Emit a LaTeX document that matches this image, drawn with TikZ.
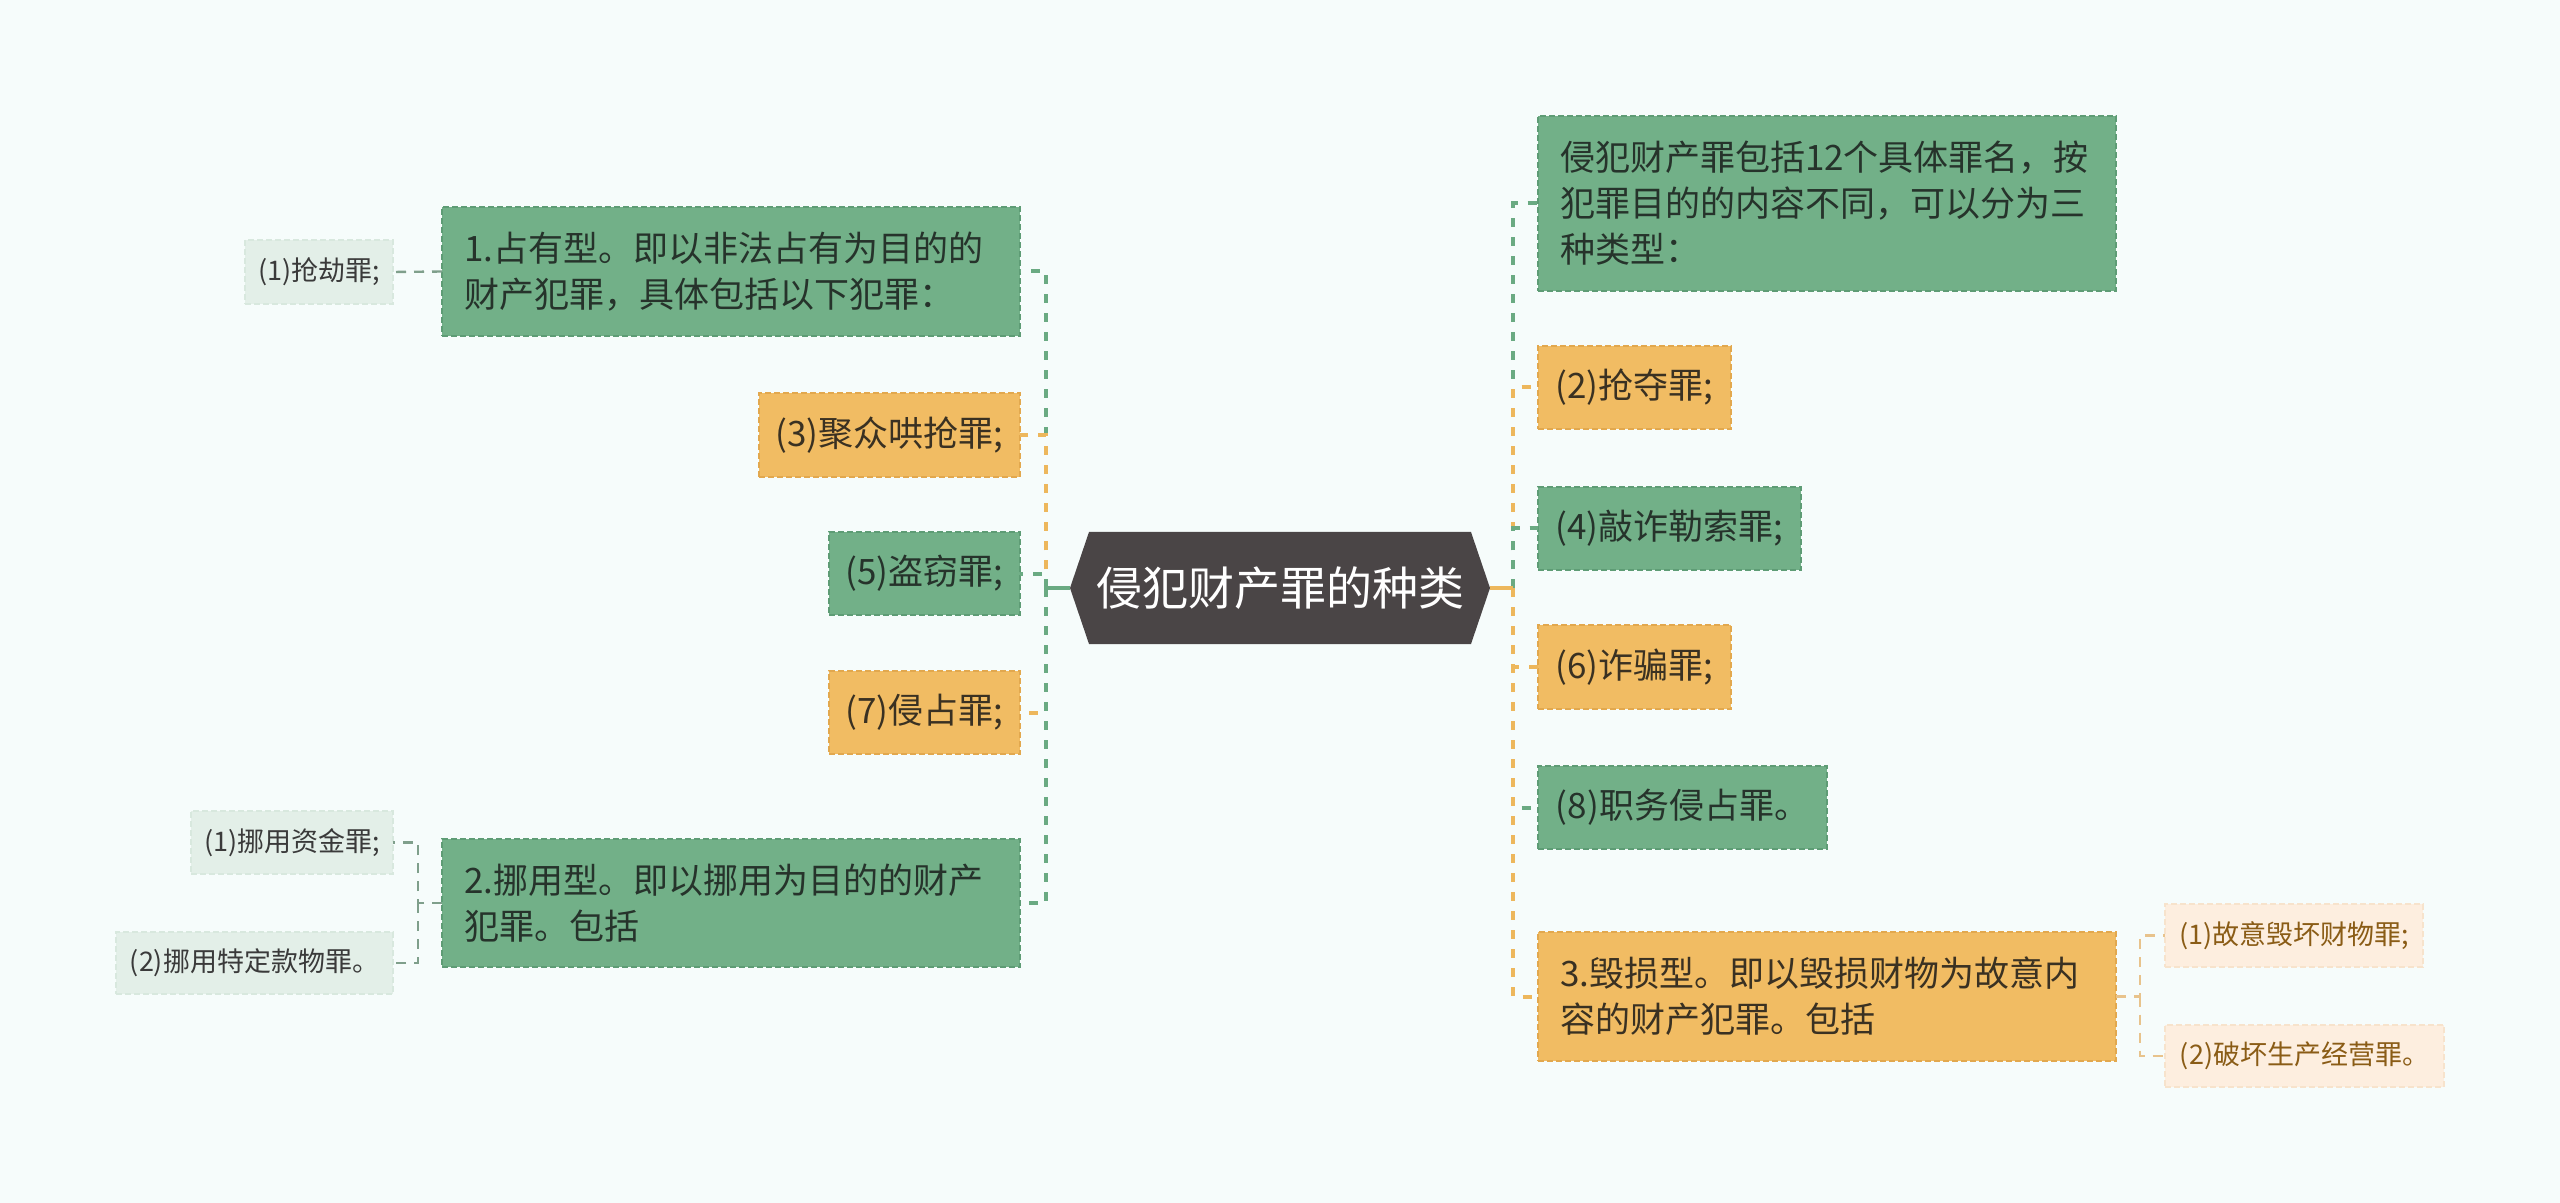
\documentclass[tikz,border=0pt]{standalone}
\usepackage{fontspec}
\setmainfont{Noto Sans CJK SC}
\definecolor{bgcol}{HTML}{F6FCFB}
\definecolor{gfill}{HTML}{72B088}
\definecolor{gborder}{HTML}{5E9C75}
\definecolor{gtext}{HTML}{26332B}
\definecolor{gcol}{HTML}{6AAA82}
\definecolor{ofill}{HTML}{F1BC63}
\definecolor{oborder}{HTML}{E2A84E}
\definecolor{otext}{HTML}{3A3122}
\definecolor{ocol}{HTML}{EDB75C}
\definecolor{lgfill}{HTML}{E3EFE8}
\definecolor{lgborder}{HTML}{D8E8DE}
\definecolor{lgtext}{HTML}{3A3A3A}
\definecolor{lgcol}{HTML}{7F9F8B}
\definecolor{lofill}{HTML}{FDEEDF}
\definecolor{loborder}{HTML}{F7E3CC}
\definecolor{lotext}{HTML}{8A5C16}
\definecolor{locol}{HTML}{E8C38C}
\definecolor{hexcol}{HTML}{4A4546}
\begin{document}
\begin{tikzpicture}[x=0.5pt,y=-0.5pt,
  box/.style={inner sep=0pt, outer sep=0pt, line width=0.8pt, dash pattern=on 3pt off 1.5pt, font=\fontsize{17.5}{23}\selectfont},
  gbox/.style={box, fill=gfill, draw=gborder, text=gtext},
  obox/.style={box, fill=ofill, draw=oborder, text=otext},
  multi/.style={text width=267pt, align=left, inner xsep=11pt},
  leafg/.style={box, fill=lgfill, draw=lgborder, text=lgtext, font=\fontsize{13.5}{16}\selectfont},
  leafo/.style={box, fill=lofill, draw=loborder, text=lotext, font=\fontsize{13.5}{16}\selectfont},
  hexnode/.style={minimum width=210pt, minimum height=56pt, inner sep=0pt, outer sep=0pt, fill=bgcol, text=white,
    font=\fontsize{23}{28}\selectfont,
    path picture={\fill[hexcol] ([xshift=9.5pt]path picture bounding box.north west) -- ([xshift=-9.5pt]path picture bounding box.north east) -- (path picture bounding box.east) -- ([xshift=-9.5pt]path picture bounding box.south east) -- ([xshift=9.5pt]path picture bounding box.south west) -- (path picture bounding box.west) -- cycle;}},
  gsolid/.style={draw=gcol, line width=2pt},
  osolid/.style={draw=ocol, line width=2pt},
  gdash/.style={gsolid, dash pattern=on 4.5pt off 5pt},
  odash/.style={osolid, dash pattern=on 4.5pt off 5pt},
  lgline/.style={draw=lgcol, line width=1.2pt, dash pattern=on 5pt off 4pt},
  loline/.style={draw=locol, line width=1.2pt, dash pattern=on 5pt off 4pt}
]
\fill[bgcol] (0,0) rectangle (2560,1203);
\useasboundingbox (0,0) rectangle (2560,1203);

% centre
\node[hexnode] (c) at (1280,588) {侵犯财产罪的种类};

% left side
\node[gbox, multi, minimum height=64.5pt] (L1) at (731,271.5) {1.占有型。即以非法占有为目的的\\财产犯罪，具体包括以下犯罪：};
\node[obox, minimum width=130.5pt, minimum height=42pt] (n3) at (889.5,435) {(3)聚众哄抢罪;};
\node[gbox, minimum width=95.5pt, minimum height=41.5pt] (n5) at (924.5,573.5) {(5)盗窃罪;};
\node[obox, minimum width=95.5pt, minimum height=41.5pt] (n7) at (924.5,712.5) {(7)侵占罪;};
\node[gbox, multi, minimum height=64pt] (L2) at (731,903) {2.挪用型。即以挪用为目的的财产\\犯罪。包括};
\node[leafg, minimum width=74pt, minimum height=32pt] (a1) at (319,272) {(1)抢劫罪;};
\node[leafg, minimum width=101pt, minimum height=31.5pt] (b1) at (292,842.5) {(1)挪用资金罪;};
\node[leafg, minimum width=138.5pt, minimum height=31pt] (b2) at (254.5,963) {(2)挪用特定款物罪。};

% right side
\node[gbox, multi, minimum height=87.5pt] (R1) at (1827,203.5) {侵犯财产罪包括12个具体罪名，按\\犯罪目的的内容不同，可以分为三\\种类型：};
\node[obox, minimum width=96.5pt, minimum height=41.5pt] (m2) at (1634.5,387.5) {(2)抢夺罪;};
\node[gbox, minimum width=131.5pt, minimum height=41.5pt] (m4) at (1669.5,528.5) {(4)敲诈勒索罪;};
\node[obox, minimum width=96.5pt, minimum height=42pt] (m6) at (1634.5,667) {(6)诈骗罪;};
\node[gbox, minimum width=144.5pt, minimum height=41.5pt] (m8) at (1682.5,807.5) {(8)职务侵占罪。};
\node[obox, multi, minimum height=64.5pt] (R3) at (1827,996.5) {3.毁损型。即以毁损财物为故意内\\容的财产犯罪。包括};
\node[leafo, minimum width=129pt, minimum height=31.5pt] (c1) at (2294,935.5) {(1)故意毁坏财物罪;};
\node[leafo, minimum width=139.5pt, minimum height=31pt] (c2) at (2304.5,1056) {(2)破坏生产经营罪。};

% connectors, left
\coordinate (lt) at (1046,588);
\draw[gsolid] (c.west) -- (lt); \draw[gdash] (lt) |- (L1.east);
\draw[osolid] (c.west) -- (lt); \draw[odash] (lt) |- (n3.east);
\draw[gsolid] (c.west) -- (lt); \draw[gdash] (lt) |- (n5.east);
\draw[osolid] (c.west) -- (lt); \draw[odash] (lt) |- (n7.east);
\draw[gsolid] (c.west) -- (lt); \draw[gdash] (lt) |- (L2.east);

% connectors, right
\coordinate (rt) at (1513,588);
\draw[gsolid] (c.east) -- (rt); \draw[gdash] (rt) |- (R1.west);
\draw[osolid] (c.east) -- (rt); \draw[odash] (rt) |- (m2.west);
\draw[gsolid] (c.east) -- (rt); \draw[gdash] (rt) |- (m4.west);
\draw[osolid] (c.east) -- (rt); \draw[odash] (rt) |- (m6.west);
\draw[gsolid] (c.east) -- (rt); \draw[gdash] (rt) |- (m8.west);
\draw[osolid] (c.east) -- (rt); \draw[odash] (rt) |- (R3.west);

% leaf connectors
\draw[lgline] (L1.west) -- (a1.east);
\coordinate (lb) at (418,903);
\draw[lgline] (L2.west) -- (lb) |- (b1.east);
\draw[lgline] (lb) |- (b2.east);
\coordinate (rb) at (2140,996.5);
\draw[loline] (R3.east) -- (rb) |- (c1.west);
\draw[loline] (rb) |- (c2.west);
\end{tikzpicture}
\end{document}
